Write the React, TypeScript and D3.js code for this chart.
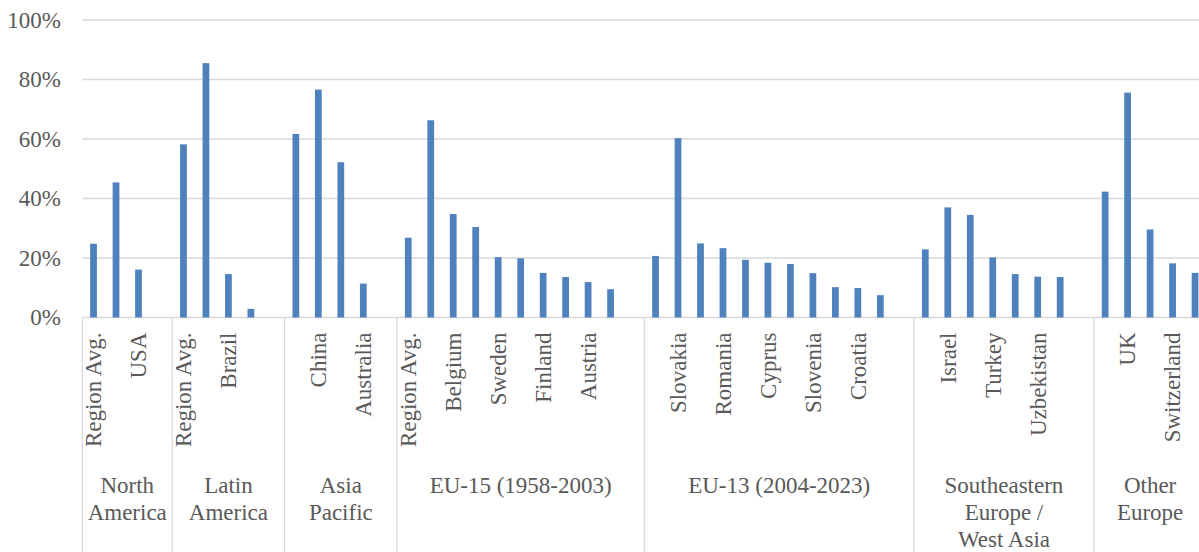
import React from "react";
import * as d3 from "d3";

// region headers (line-broken as in the original)
const groupNames: string[][] = [
  ["North", "America"],
  ["Latin", "America"],
  ["Asia", "Pacific"],
  ["EU-15 (1958-2003)"],
  ["EU-13 (2004-2023)"],
  ["Southeastern", "Europe /", "West Asia"],
  ["Other", "Europe"],
];

// country labels per region; "" = label hidden in the original (every other one is skipped)
const countryLabels: string[][] = [
  ["Region Avg.", "", "USA", ""],
  ["Region Avg.", "", "Brazil", "", ""],
  ["Region Avg.", "China", "", "Australia", ""],
  ["Region Avg.", "", "Belgium", "", "Sweden", "", "Finland", "", "Austria", "", ""],
  ["Region Avg.", "Slovakia", "", "Romania", "", "Cyprus", "", "Slovenia", "", "Croatia", "", ""],
  ["Region Avg.", "Israel", "", "Turkey", "", "Uzbekistan", "", ""],
  ["Region Avg.", "UK", "", "Switzerland", ""],
];

// share in percent; null = empty spacer slot
const shareValues: (number | null)[][] = [
  [24.8, 45.4, 16.1, null],
  [58.2, 85.5, 14.6, 2.9, null],
  [61.7, 76.6, 52.2, 11.4, null],
  [26.8, 66.3, 34.8, 30.4, 20.3, 19.9, 15.0, 13.6, 11.9, 9.5, null],
  [20.7, 60.3, 24.9, 23.3, 19.4, 18.4, 18.0, 14.9, 10.2, 9.9, 7.5, null],
  [22.9, 37.0, 34.5, 20.2, 14.6, 13.7, 13.6, null],
  [42.3, 75.6, 29.6, 18.2, 15.0],
];

const yTicks = [0, 0.2, 0.4, 0.6, 0.8, 1];

const W = 1199;
const H = 552;
const FONT = "'Liberation Serif', 'Times New Roman', serif";
const TEXT = "#595959";
const GRID = "#d9d9d9";
const BAR = "#4f81bd";

export default function App() {
  const margin = { left: 82.3, top: 20, bottom: 317.5 };

  // flatten to slots
  const slots: { g: number; label: string; value: number | null }[] = [];
  countryLabels.forEach((labels, g) =>
    labels.forEach((label, i) =>
      slots.push({ g, label, value: shareValues[g][i] })
    )
  );

  const x = d3
    .scaleBand<number>()
    .domain(slots.map((_, i) => i))
    .range([margin.left, margin.left + slots.length * 22.48])
    .paddingInner(0)
    .paddingOuter(0);

  const y = d3.scaleLinear().domain([0, 1]).range([margin.bottom, margin.top]);
  const fmt = d3.format(".0%");

  const bw = x.bandwidth() * 0.3;
  const right = W;

  // group boundaries
  const bounds: number[] = [];
  let idx = 0;
  countryLabels.forEach((labels) => {
    bounds.push(idx);
    idx += labels.length;
  });
  bounds.push(idx);

  return (
    <svg
      width={W}
      height={H}
      style={{ position: "absolute", left: 0, top: 0, display: "block" }}
      fontFamily={FONT}
    >
      <rect width={W} height={H} fill="#fff" />

      {/* gridlines */}
      {yTicks.map((t) => (
        <line
          key={t}
          x1={margin.left}
          x2={right}
          y1={y(t)}
          y2={y(t)}
          stroke={GRID}
          strokeWidth={1.3}
        />
      ))}

      {/* y labels */}
      {yTicks.map((t) => (
        <text
          key={"l" + t}
          x={61}
          y={y(t)}
          dy="0.34em"
          textAnchor="end"
          fontSize={23}
          fill={TEXT}
        >
          {fmt(t)}
        </text>
      ))}

      {/* bars */}
      {slots.map((s, i) =>
        s.value == null ? null : (
          <rect
            key={"b" + i}
            x={x(i)! + x.bandwidth() / 2 - bw / 2}
            y={y(s.value / 100)}
            width={bw}
            height={y(0) - y(s.value / 100)}
            fill={BAR}
          />
        )
      )}

      {/* group separators */}
      {bounds.map((b) => {
        const bx = b < slots.length ? x(b)! : x(slots.length - 1)! + x.bandwidth();
        return (
          <line
            key={"s" + b}
            x1={bx}
            x2={bx}
            y1={margin.bottom}
            y2={H}
            stroke={GRID}
            strokeWidth={1.3}
          />
        );
      })}

      {/* country labels, every other slot */}
      {slots.map((s, i) =>
        i % 2 === 0 && s.label ? (
          <text
            key={"c" + i}
            transform={`translate(${x(i)! + x.bandwidth() / 2},332.5) rotate(-90)`}
            dy="0.34em"
            textAnchor="end"
            fontSize={23}
            fill={TEXT}
          >
            {s.label}
          </text>
        ) : null
      )}

      {/* region labels */}
      {groupNames.map((lines, g) => {
        const x0 = x(bounds[g])!;
        const x1 = x(bounds[g + 1] - 1)! + x.bandwidth();
        const cx = (x0 + x1) / 2;
        return (
          <text key={"g" + g} textAnchor="middle" fontSize={23} fill={TEXT}>
            {lines.map((ln, k) => (
              <tspan key={k} x={cx} y={493 + k * 27}>
                {ln}
              </tspan>
            ))}
          </text>
        );
      })}
    </svg>
  );
}
